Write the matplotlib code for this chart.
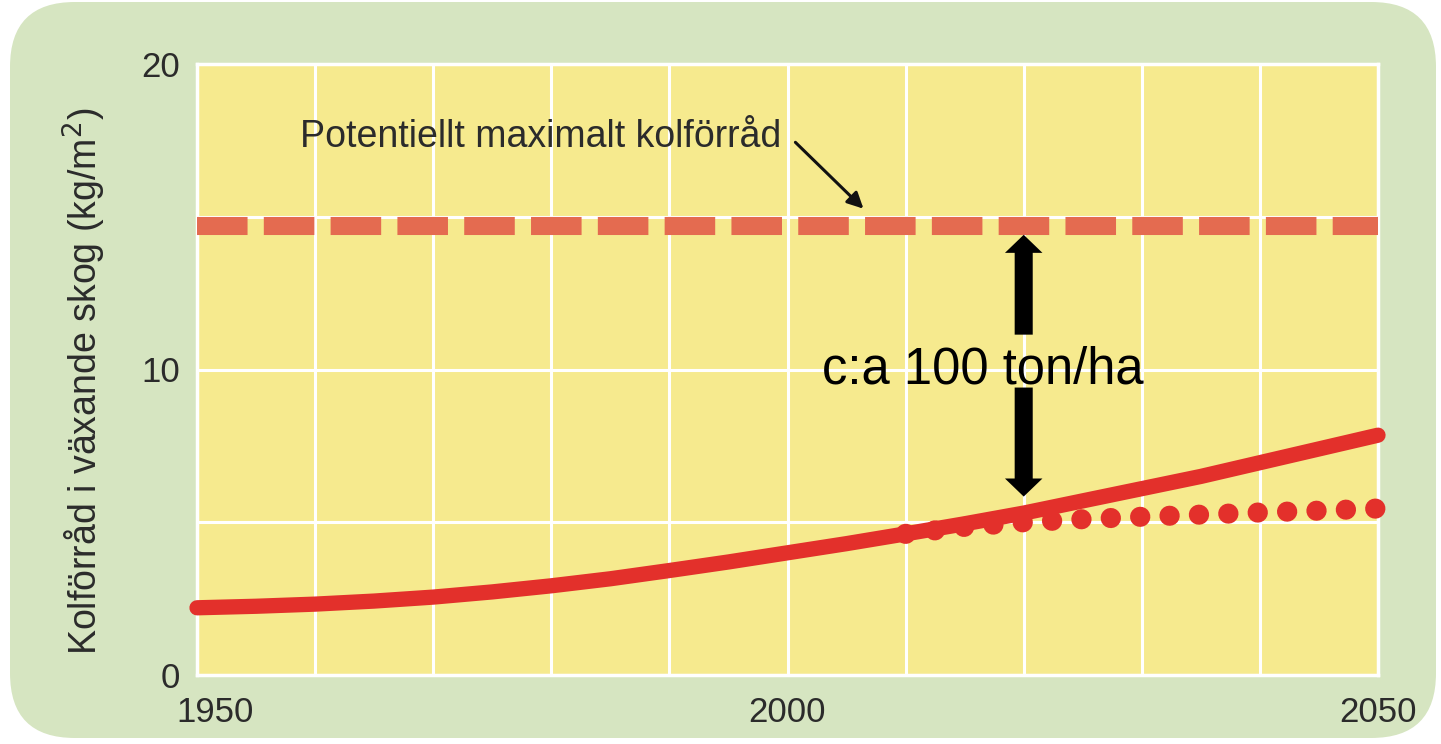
import numpy as np
import matplotlib
matplotlib.use("Agg")
import matplotlib.pyplot as plt
from matplotlib.patches import FancyBboxPatch, FancyArrowPatch
from matplotlib.transforms import ScaledTranslation

plt.rcParams['font.family'] = ['Liberation Sans', 'DejaVu Sans']

# data
years = [1950, 1955, 1960, 1965, 1970, 1975, 1980, 1985, 1990, 1995, 2000,
         2005, 2010, 2015, 2020, 2025, 2030, 2035, 2040, 2045, 2050]
carbon = [2.2, 2.25, 2.32, 2.42, 2.55, 2.72, 2.92, 3.15, 3.42, 3.7, 4.0,
          4.3, 4.62, 4.95, 5.3, 5.7, 6.1, 6.5, 6.95, 7.4, 7.85]
years_alt = [2010, 2015, 2020, 2025, 2030, 2035, 2040, 2045, 2050]
carbon_alt = [4.62, 4.85, 5.0, 5.1, 5.18, 5.25, 5.32, 5.38, 5.45]
max_carbon = 14.7
gap_year = 2020
gap_top = 14.5
gap_bottom = 5.75

x_ticks = list(range(1950, 2051, 10))
x_labels = ['1950', '', '', '', '', '2000', '', '', '', '', '2050']
y_ticks = [0, 5, 10, 15, 20]
y_labels = ['0', '', '10', '', '20']

GREEN = '#D6E5C1'
YELLOW = '#F6EA8E'
RED = '#E3302B'
CORAL = '#E46B50'
GREY = '#2b2b2b'

fig = plt.figure(figsize=(14.41, 7.44), dpi=100)
fig.patch.set_facecolor('white')
bg = FancyBboxPatch((10 / 1441, 6 / 744), 1426 / 1441, 736 / 744,
                    boxstyle="round,pad=0,rounding_size=0.045",
                    transform=fig.transFigure, facecolor=GREEN,
                    edgecolor='none', zorder=-10, mutation_aspect=1441 / 744)
fig.patches.append(bg)

ax = fig.add_axes([197 / 1441, 1 - 675 / 744, 1181 / 1441, 611 / 744])
ax.set_facecolor(YELLOW)
ax.set_xlim(1950, 2050)
ax.set_ylim(0, 20)

ax.set_xticks(x_ticks)
ax.set_xticklabels(x_labels)
ax.set_yticks(y_ticks)
ax.set_yticklabels(y_labels)
ax.tick_params(length=0, labelsize=25, colors=GREY)
ax.tick_params(axis='y', pad=12)
ax.tick_params(axis='x', pad=15)
# first year label sits a bit right of the axis corner
first = ax.get_xticklabels()[0]
first.set_transform(first.get_transform() +
                    ScaledTranslation(18 / 100, 0, fig.dpi_scale_trans))
ax.grid(True, color='white', lw=2.2)
ax.set_axisbelow(True)
for s in ax.spines.values():
    s.set_color('white')
    s.set_linewidth(2.5)

ax.set_ylabel('Kolförråd i växande skog (kg/m$^2$)', fontsize=27,
              color=GREY, va='center')
ax.yaxis.set_label_coords(-0.095, 0.481)

# potential maximum (dashed)
ax.plot([1950, 2050], [max_carbon, max_carbon], color=CORAL, lw=13,
        linestyle=(0, (2.8, 0.9)), dash_capstyle='butt', zorder=3)

# projected alternative (dotted)
ax.plot(years_alt, carbon_alt, color=RED, lw=14.5,
        linestyle=(0, (0.01, 1.45)), dash_capstyle='round', zorder=4,
        clip_on=False)

# main curve
ax.plot(years, carbon, color=RED, lw=11, solid_capstyle='round', zorder=5,
        clip_on=False)

ax.text(1958.7, 17.6, 'Potentiellt maximalt kolförråd', fontsize=27,
        color=GREY, va='center', ha='left', zorder=6)
ax.annotate('', xy=(2006.6, 15.2), xytext=(2000.5, 17.5),
            arrowprops=dict(arrowstyle='-|>,head_length=0.6,head_width=0.3',
                            color='#111111', lw=2.2, mutation_scale=16),
            zorder=6)

ax.text(2016.5, 10.0, 'c:a 100 ton/ha', fontsize=36.5, color='black',
        ha='center', va='center', zorder=7)
style = 'simple,head_length=13,head_width=27,tail_width=13'
ax.add_patch(FancyArrowPatch((gap_year, 11.05), (gap_year, gap_top),
                             arrowstyle=style, mutation_scale=1,
                             color='black', lw=0, zorder=7))
ax.add_patch(FancyArrowPatch((gap_year, 9.5), (gap_year, gap_bottom),
                             arrowstyle=style, mutation_scale=1,
                             color='black', lw=0, zorder=7))

fig.savefig('out.png', dpi=100, facecolor=fig.get_facecolor())
